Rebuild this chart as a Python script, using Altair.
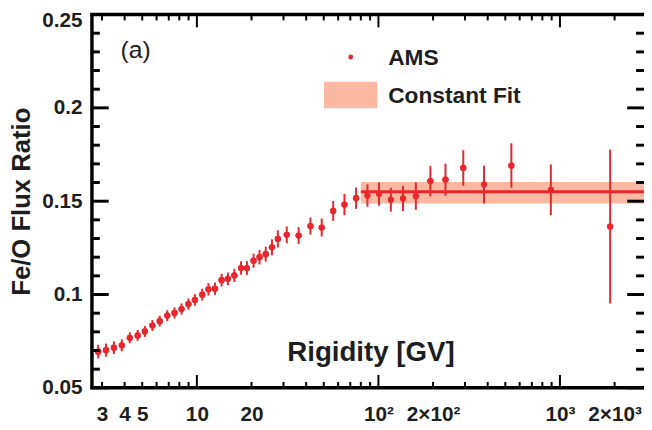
import altair as alt
import pandas as pd

# ---------------- data ----------------
rigidity = [2.86, 3.16, 3.49, 3.86, 4.27, 4.72, 5.17, 5.69, 6.24, 6.87,
            7.53, 8.23, 8.98, 9.75, 10.70, 11.58, 12.59, 13.68, 14.82, 16.09,
            17.51, 18.87, 20.52, 22.13, 23.95, 25.92, 27.93, 31.27, 36.35, 42.24,
            48.72, 56.35, 65.0, 75.3, 87.0, 100.8, 117.1, 136.6, 160.8, 193.3,
            234.1, 293.4, 381.6, 539.9, 891.0, 1890.0]
ratio = [0.0694, 0.0702, 0.0715, 0.0728, 0.0768, 0.0781, 0.0802, 0.0834, 0.0857, 0.0887,
         0.0901, 0.0922, 0.0949, 0.0971, 0.0999, 0.1028, 0.1031, 0.1077, 0.1084, 0.1102,
         0.1142, 0.1142, 0.1181, 0.1200, 0.1216, 0.1253, 0.1298, 0.1320, 0.1316, 0.1367,
         0.1359, 0.1448, 0.1482, 0.1516, 0.1530, 0.1538, 0.1508, 0.1515, 0.1527, 0.1607,
         0.1615, 0.1678, 0.1589, 0.1691, 0.1561, 0.1364]
error = [0.0037, 0.0035, 0.0034, 0.0032, 0.0029, 0.0029, 0.0029, 0.0029, 0.0029, 0.0029,
         0.0030, 0.0030, 0.0030, 0.0031, 0.0032, 0.0033, 0.0033, 0.0034, 0.0034, 0.0035,
         0.0036, 0.0037, 0.0038, 0.0039, 0.0040, 0.0043, 0.0046, 0.0045, 0.0045, 0.0046,
         0.0048, 0.0053, 0.0057, 0.0057, 0.0060, 0.0062, 0.0064, 0.0068, 0.0073, 0.0081,
         0.0086, 0.0095, 0.0101, 0.0119, 0.0136, 0.0412]

fit_value = [0.1551]
fit_low = [0.1487]
fit_high = [0.1603]
fit_start = [80.0]

x_domain = [2.642, 2904.0]
y_domain = [0.05, 0.25]

x_tick_values = [3, 4, 5, 10, 20, 100, 200, 1000, 2000]
x_tick_labels = ["3", "4", "5", "10", "20", "10²", "2×10²", "10³", "2×10³"]
x_major = [10, 100, 1000]
x_minor = [3, 4, 5, 6, 7, 8, 9, 20, 30, 40, 50, 60, 70, 80, 90,
           200, 300, 400, 500, 600, 700, 800, 900, 2000]

y_tick_values = [0.05, 0.1, 0.15, 0.2, 0.25]
y_tick_labels = ["0.05", "0.1", "0.15", "0.2", "0.25"]
y_minor = [0.06, 0.07, 0.08, 0.09, 0.11, 0.12, 0.13, 0.14, 0.16, 0.17, 0.18, 0.19,
           0.21, 0.22, 0.23, 0.24]

legend_labels = ["AMS", "Constant Fit"]
panel_label = ["(a)"]
x_title = "Rigidity [GV]"
y_title = "Fe/O Flux Ratio"

# ---------------- styling ----------------
RED = "#E8262C"
BAND = "#FBB9A2"
FONT = "Liberation Sans"
W, H = 559, 378
TXT = "#1e1e1e"

df = pd.DataFrame({"R": rigidity, "v": ratio, "e": error})
df["lo"] = df["v"] - df["e"]
df["hi"] = df["v"] + df["e"]

xs = alt.Scale(type="log", domain=x_domain, nice=False, zero=False)
ys = alt.Scale(type="linear", domain=y_domain, nice=False, zero=False)


def lbl_expr(values, labels):
    parts = " : ".join(
        f"datum.value == {v} ? '{l}'" for v, l in zip(values, labels)
    )
    return parts + " : ''"


x_axis = alt.Axis(values=x_tick_values, labelExpr=lbl_expr(x_tick_values, x_tick_labels),
                  ticks=False, domain=False, grid=False, labelFont=FONT, labelFontSize=21,
                  labelFontWeight="bold", labelColor=TXT, labelPadding=16,
                  labelFlush=False, labelOverlap=False,
                  title=x_title, titleFont=FONT, titleFontSize=28, titleFontWeight="bold",
                  titleColor=TXT, titleX=282, titleY=-28, titleBaseline="alphabetic",
                  titleAlign="center")
y_axis = alt.Axis(values=y_tick_values, labelExpr=lbl_expr(y_tick_values, y_tick_labels),
                  ticks=False, domain=False, grid=False, labelFont=FONT, labelFontSize=21,
                  labelFontWeight="bold", labelColor=TXT, labelPadding=10,
                  labelOffset={"condition": {"test": "datum.value > 0.24", "value": 6},
                               "value": 0},
                  labelFlush=False, labelOverlap=False,
                  title=y_title, titleFont=FONT, titleFontSize=26, titleFontWeight="bold",
                  titleColor=TXT, titleX=-71, titleY=H / 2, titleAngle=270,
                  titleBaseline="middle", titleAlign="center")

fit_df = pd.DataFrame({"x1": fit_start, "x2": [x_domain[1]], "lo": fit_low,
                       "hi": fit_high, "v": fit_value})

points = alt.Chart(df).mark_circle(color=RED, opacity=1, size=40).encode(
    x=alt.X("R:Q", scale=xs, axis=x_axis),
    y=alt.Y("v:Q", scale=ys, axis=y_axis))

band = alt.Chart(fit_df).mark_rect(color=BAND, opacity=1, clip=True).encode(
    x=alt.X("x1:Q", scale=xs), x2="x2:Q",
    y=alt.Y("lo:Q", scale=ys), y2="hi:Q")

fit_line = alt.Chart(fit_df).mark_rule(color=RED, strokeWidth=3, clip=True).encode(
    x=alt.X("x1:Q", scale=xs), x2="x2:Q",
    y=alt.Y("v:Q", scale=ys))

bars = alt.Chart(df).mark_rule(color=RED, strokeWidth=2).encode(
    x=alt.X("R:Q", scale=xs),
    y=alt.Y("lo:Q", scale=ys), y2="hi:Q")


def xticks(vals, length):
    d = pd.DataFrame({"t": vals})
    bottom = alt.Chart(d).mark_rule(color="black", strokeWidth=2).encode(
        x=alt.X("t:Q", scale=xs), y=alt.value(H), y2=alt.value(H - length))
    top = alt.Chart(d).mark_rule(color="black", strokeWidth=2).encode(
        x=alt.X("t:Q", scale=xs), y=alt.value(0), y2=alt.value(length))
    return [bottom, top]


def yticks(vals, length):
    d = pd.DataFrame({"t": vals})
    left = alt.Chart(d).mark_rule(color="black", strokeWidth=3).encode(
        y=alt.Y("t:Q", scale=ys), x=alt.value(0), x2=alt.value(length))
    right = alt.Chart(d).mark_rule(color="black", strokeWidth=3).encode(
        y=alt.Y("t:Q", scale=ys), x=alt.value(W), x2=alt.value(W - length))
    return [left, right]


tick_layers = (xticks(x_major, 13) + xticks(x_minor, 6)
               + yticks(y_tick_values, 17) + yticks(y_minor, 8))

frame_df = pd.DataFrame({"f": [0]})
frame_left = alt.Chart(frame_df).mark_rule(color="black", strokeWidth=3.5).encode(
    x=alt.value(0), y=alt.value(-1.5), y2=alt.value(H + 1.5))
frame_bottom = alt.Chart(frame_df).mark_rule(color="black", strokeWidth=3.5).encode(
    x=alt.value(-1.5), x2=alt.value(W), y=alt.value(H))
frame_top = alt.Chart(frame_df).mark_rule(color="black", strokeWidth=3.5).encode(
    x=alt.value(-1.5), x2=alt.value(W), y=alt.value(0))

panel = alt.Chart(pd.DataFrame({"t": panel_label})).mark_text(
    font=FONT, fontSize=25, fontWeight="normal", color=TXT, align="left",
    baseline="alphabetic").encode(x=alt.value(29), y=alt.value(44), text="t:N")

leg_dot = alt.Chart(pd.DataFrame({"t": legend_labels[:1]})).mark_circle(
    color=RED, opacity=1, size=24).encode(x=alt.value(262), y=alt.value(43))
leg_rect = alt.Chart(pd.DataFrame({"t": legend_labels[1:]})).mark_rect(
    color=BAND, opacity=1).encode(x=alt.value(235), x2=alt.value(289),
                                  y=alt.value(68), y2=alt.value(95))
leg_text1 = alt.Chart(pd.DataFrame({"t": legend_labels[:1]})).mark_text(
    font=FONT, fontSize=23, fontWeight="bold", color=TXT, align="left",
    baseline="alphabetic").encode(x=alt.value(300), y=alt.value(51), text="t:N")
leg_text2 = alt.Chart(pd.DataFrame({"t": legend_labels[1:]})).mark_text(
    font=FONT, fontSize=23, fontWeight="bold", color=TXT, align="left",
    baseline="alphabetic").encode(x=alt.value(300), y=alt.value(90), text="t:N")

chart = alt.layer(
    points, band, fit_line, bars, points, *tick_layers,
    frame_left, frame_bottom, frame_top,
    panel, leg_rect, leg_dot, leg_text1, leg_text2
).resolve_axis(x="shared", y="shared").properties(
    width=W, height=H,
    autosize=alt.AutoSizeParams(type="none"),
    padding={"left": 85, "top": 4, "right": 0, "bottom": 35},
    background="white",
).configure_view(stroke=None)

chart.save("out.html", embed_options={"renderer": "svg", "actions": False})
